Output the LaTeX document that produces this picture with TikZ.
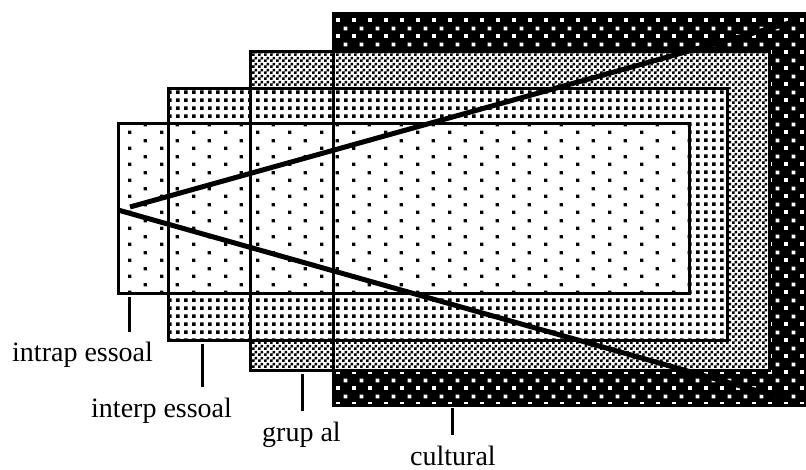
\documentclass[tikz,border=0pt]{standalone}
\usepackage{fontspec}
\setmainfont{Liberation Serif}
\usetikzlibrary{patterns}

\pgfdeclarepatternformonly{sparsedots}{\pgfqpoint{0pt}{0pt}}{\pgfqpoint{32pt}{16pt}}{\pgfqpoint{32pt}{16pt}}{%
  \pgfpathrectangle{\pgfqpoint{0pt}{0pt}}{\pgfqpoint{3.5pt}{3.5pt}}%
  \pgfpathrectangle{\pgfqpoint{16pt}{8pt}}{\pgfqpoint{3.5pt}{3.5pt}}%
  \pgfusepath{fill}}
\pgfdeclarepatternformonly{densedots}{\pgfqpoint{0pt}{0pt}}{\pgfqpoint{8pt}{8pt}}{\pgfqpoint{8pt}{8pt}}{%
  \pgfpathrectangle{\pgfqpoint{0pt}{0pt}}{\pgfqpoint{4pt}{4pt}}%
  \pgfusepath{fill}}
\pgfdeclarepatternformonly{checker}{\pgfqpoint{0pt}{0pt}}{\pgfqpoint{6pt}{6pt}}{\pgfqpoint{6pt}{6pt}}{%
  \pgfpathrectangle{\pgfqpoint{0pt}{0pt}}{\pgfqpoint{3pt}{3pt}}%
  \pgfpathrectangle{\pgfqpoint{3pt}{3pt}}{\pgfqpoint{3pt}{3pt}}%
  \pgfusepath{fill}}
\pgfdeclarepatternformonly{stagdots}{\pgfqpoint{0pt}{0pt}}{\pgfqpoint{16pt}{16pt}}{\pgfqpoint{16pt}{16pt}}{%
  \pgfpathrectangle{\pgfqpoint{0pt}{0pt}}{\pgfqpoint{4pt}{4pt}}%
  \pgfpathrectangle{\pgfqpoint{8pt}{8pt}}{\pgfqpoint{4pt}{4pt}}%
  \pgfusepath{fill}}

\begin{document}
\begin{tikzpicture}[
    x=1pt, y=-1pt,
    frame/.style={draw=black, line width=3pt},
    intrafill/.style={preaction={fill=white}, pattern=sparsedots},
    interfill/.style={preaction={fill=white}, pattern=densedots},
    grupfill/.style={preaction={fill=white}, pattern=checker},
    cultfill/.style={preaction={fill=black}, pattern=stagdots, pattern color=white},
    fan/.style={draw=black, line width=5pt},
    tick/.style={draw=black, line width=3pt, shorten >=10pt},
    lbl/.style={anchor=base west, inner sep=0pt, font=\fontsize{28}{32}\selectfont}
]
\useasboundingbox (0,0) rectangle (806,470);

\path[cultfill] (333,14) rectangle (806,405);
\path[grupfill] (250,52) rectangle (769,370);
\path[interfill] (168,89) rectangle (727,341);
\path[intrafill] (118,124) rectangle (689,294);

\draw[frame] (806,14) -- (333,14) -- (333,405) -- (806,405);
\draw[frame] (250,52) rectangle (769,370);
\draw[frame] (168,89) rectangle (727,341);
\draw[frame] (118,124) rectangle (689,294);

\coordinate (apexUp) at (130,207);
\coordinate (apexDown) at (118,210);
\coordinate (endUp) at (793,22);
\coordinate (endDown) at (783,398);
\draw[fan] (apexUp) -- (endUp);
\draw[fan] (apexDown) -- (endDown);

\node[lbl] (intraLbl) at (12,362) {intrap essoal};
\node[lbl] (interLbl) at (91,417) {interp essoal};
\node[lbl] (grupLbl) at (262,441) {grup al};
\node[lbl] (cultLbl) at (410,465) {cultural};

\coordinate (intraTick) at (129,297);
\coordinate (interTick) at (202,344);
\coordinate (grupTick) at (302,374);
\coordinate (cultTick) at (452,408);
\draw[tick] (intraTick) -- (intraTick |- intraLbl.north);
\draw[tick] (interTick) -- (interTick |- interLbl.north);
\draw[tick] (grupTick) -- (grupTick |- grupLbl.north);
\draw[tick] (cultTick) -- (cultTick |- cultLbl.north);
\end{tikzpicture}
\end{document}
